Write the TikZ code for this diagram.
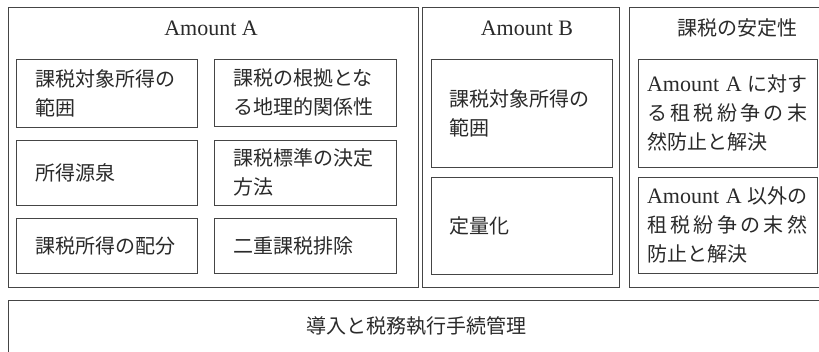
\documentclass[tikz,border=0pt]{standalone}
\usepackage{fontspec}
\setmainfont{Liberation Serif}
\newfontfamily\cjk{Noto Sans CJK JP}
\newcommand\lat[1]{{\rmfamily\fontsize{22}{29}\selectfont #1}}
\newcommand\spread[1]{\makebox[160pt][s]{#1}}
\definecolor{ink}{HTML}{2A2A2A}
\definecolor{edge}{HTML}{454545}
\begin{document}
\begin{tikzpicture}[x=1pt,y=-1pt,
  every node/.style={text=ink, font=\cjk\fontsize{20}{29}\selectfont},
  outerbox/.style={draw=edge, line width=1pt, inner sep=0pt},
  inbox/.style={draw=edge, line width=0.9pt, inner ysep=0pt, align=left},
  titlebox/.style={inner sep=0pt}]
\useasboundingbox (0,0) rectangle (819,351);
\clip (0,0) rectangle (819,351);
\fill[white] (0,0) rectangle (819,351);

% outer frames
\node[outerbox, minimum width=410pt, minimum height=280pt] (A) at (213,147) {};
\node[outerbox, minimum width=197pt, minimum height=280pt] (B) at (520.5,147) {};
\node[outerbox, minimum width=216pt, minimum height=280pt] (C) at (737,147) {};
\node[outerbox, minimum width=816pt, minimum height=52pt] (D) at (416,326) {導入と税務執行手続管理};

% titles
\node[titlebox] (tA) at (211,28) {\lat{Amount A}};
\node[titlebox] (tB) at (527,28) {\lat{Amount B}};
\node[titlebox] (tC) at (737,28) {課税の安定性};

% Amount A boxes
\node[inbox, inner xsep=19pt, text width=143pt, minimum height=68pt] (a1) at (106.5,93) {課税対象所得の\\範囲};
\node[inbox, inner xsep=19pt, text width=144pt, minimum height=67pt] (a2) at (305,92.5) {課税の根拠とな\\る地理的関係性};
\node[inbox, inner xsep=19pt, text width=143pt, minimum height=65pt] (a3) at (106.5,172.5) {所得源泉};
\node[inbox, inner xsep=19pt, text width=144pt, minimum height=65pt] (a4) at (305,172.5) {課税標準の決定\\方法};
\node[inbox, inner xsep=19pt, text width=143pt, minimum height=55pt] (a5) at (106.5,245.5) {課税所得の配分};
\node[inbox, inner xsep=19pt, text width=144pt, minimum height=55pt] (a6) at (305,245.5) {二重課税排除};

% Amount B boxes
\node[inbox, inner xsep=18pt, text width=145pt, minimum height=108pt] (b1) at (521.5,113) {課税対象所得の\\範囲};
\node[inbox, inner xsep=18pt, text width=145pt, minimum height=97pt] (b2) at (521.5,225.5) {定量化};

% stability boxes
\node[inbox, inner xsep=9pt, text width=161pt, minimum height=108pt] (c1) at (727.5,113)
  {\spread{\lat{Amount A}\hfil に対す}\\\spread{る\hfil 租\hfil 税\hfil 紛\hfil 争\hfil の\hfil 末}\\然防止と解決};
\node[inbox, inner xsep=9pt, text width=161pt, minimum height=96pt] (c2) at (727.5,225)
  {\spread{\lat{Amount A}\hfil 以外の}\\\spread{租\hfil 税\hfil 紛\hfil 争\hfil の\hfil 末\hfil 然}\\防止と解決};
\end{tikzpicture}
\end{document}
